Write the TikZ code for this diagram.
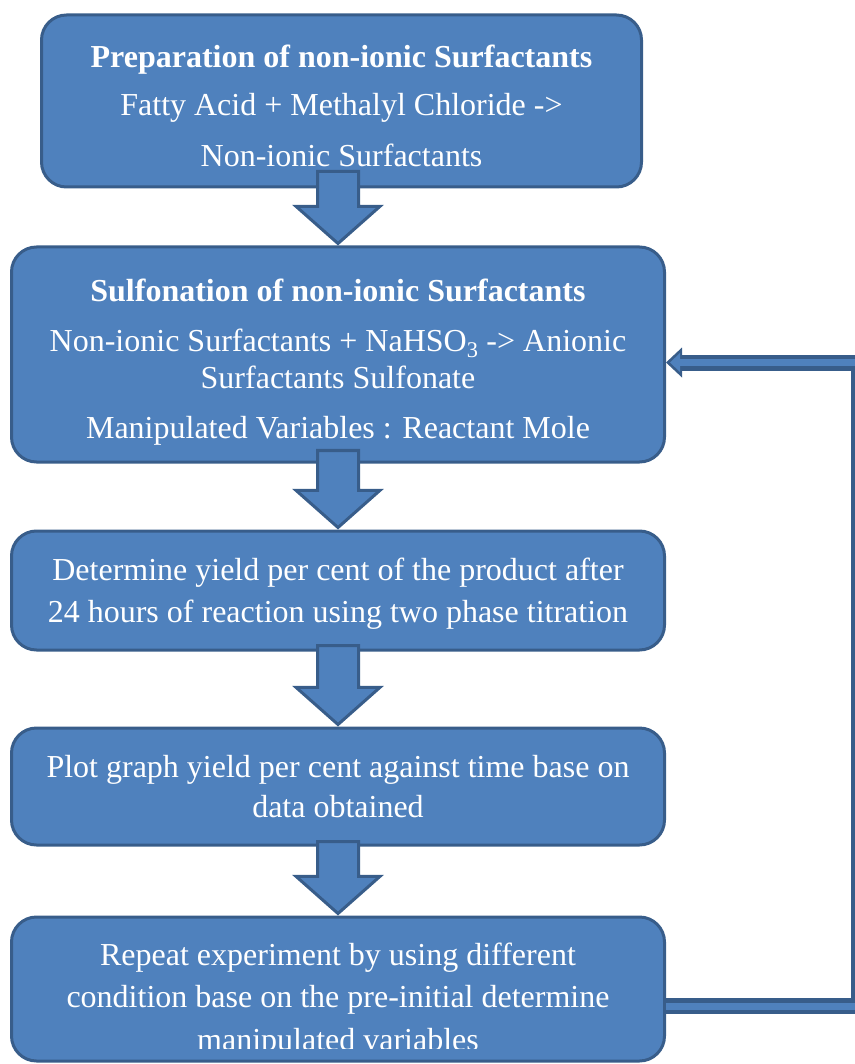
\documentclass[tikz,border=0pt]{standalone}
\usepackage{fontspec}
\setmainfont{Liberation Serif}
\definecolor{BoxBlue}{HTML}{4F81BD}
\definecolor{BoxEdge}{HTML}{385D8A}
\usetikzlibrary{arrows.meta,calc,positioning,shapes.arrows}
\newcommand\toppad[1][32pt]{\rule{0pt}{#1}}

\begin{document}
\begin{tikzpicture}[x=1pt,y=-1pt,
  box/.style={draw=BoxEdge,line width=3pt,fill=BoxBlue,rounded corners=25pt,text=white,align=center,inner sep=0pt,font=\fontsize{32}{37}\selectfont},
  boxtext/.style={text=white,align=center,inner sep=0pt,font=\fontsize{32}{37}\selectfont},
  fat/.style={single arrow,draw=BoxEdge,line width=3pt,fill=BoxBlue,rotate=-90,anchor=tip,inner xsep=0pt,inner ysep=19pt,single arrow head extend=21.5pt,single arrow tip angle=97},
  backout/.style={line width=16pt,draw=BoxEdge,-{Triangle[length=16pt,width=30pt,line width=0pt]}},
  backin/.style={line width=7pt,draw=BoxBlue,shorten >=4pt,-{Triangle[length=10pt,width=19pt,line width=0pt]}}]
  \useasboundingbox (0,0) rectangle (854,1064);
  \node[box,minimum width=600pt,minimum height=172pt] (prep) at (341.5,101) {\toppad\textbf{Preparation of non-ionic Surfactants}\\[11pt]Fatty Acid + Methalyl Chloride ->\\[14pt]Non-ionic Surfactants};
  \node[box,minimum width=653pt,minimum height=215pt,below=57pt of prep,xshift=-3.5pt] (sulf) {\toppad[38pt]\textbf{Sulfonation of non-ionic Surfactants}\\[13pt]Non-ionic Surfactants + NaHSO\textsubscript{3} -> Anionic\\Surfactants Sulfonate\\[13pt]Manipulated Variables : Reactant Mole};
  \node[box,minimum width=653pt,minimum height=119pt,below=66pt of sulf] (yield) {\toppad[28pt]Determine yield per cent of the product after\\[5pt]24 hours of reaction using two phase titration};
  \node[box,minimum width=653pt,minimum height=117pt,below=75pt of yield] (plot) {Plot graph yield per cent against time base on\\[3pt]data obtained};
  \node[box,minimum width=653pt,minimum height=144pt,below=69pt of plot] (repeat) {};
  \begin{scope}
    \clip (0,0) rectangle (854,1048);
    \node[boxtext] (repeattext) at ([yshift=-11pt]repeat.center) {Repeat experiment by using different\\[5pt]condition base on the pre-initial determine\\[6pt]manipulated variables};
  \end{scope}
  \node[fat,minimum height=72pt] (a1) at (sulf.north) {};
  \node[fat,minimum height=77pt] (a2) at (yield.north) {};
  \node[fat,minimum height=79pt] (a3) at (plot.north) {};
  \node[fat,minimum height=72pt] (a4) at (repeat.north) {};
  \draw[backout] ([yshift=-17pt]repeat.east) -- ++(193,0) |- ([yshift=-8pt]sulf.east);
  \draw[backin] ([yshift=-17pt]repeat.east) -- ++(193,0) |- ([yshift=-8pt]sulf.east);
\end{tikzpicture}
\end{document}
